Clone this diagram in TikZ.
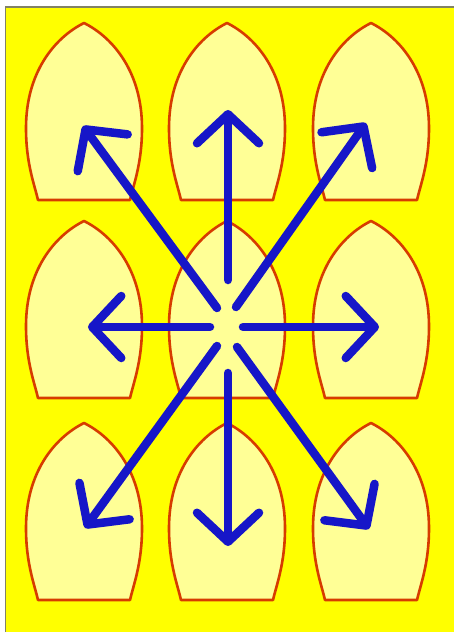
\documentclass[tikz,border=0pt]{standalone}
\usetikzlibrary{arrows.meta}
\definecolor{bgyellow}{RGB}{255,255,0}
\definecolor{archfill}{RGB}{255,255,150}
\definecolor{archline}{RGB}{215,60,0}
\definecolor{arrowblue}{RGB}{22,22,200}
\definecolor{framegray}{RGB}{130,130,100}
\tikzset{
  archstyle/.style={draw=archline, fill=archfill, line width=2.6pt, line join=round},
  arch/.pic={
    \path[archstyle] (0,0) .. controls (30,15) and (58,50) .. (58,105)
      .. controls (58,140) and (50,160) .. (46,177) -- (-46,177)
      .. controls (-50,160) and (-58,140) .. (-58,105)
      .. controls (-58,50) and (-30,15) .. (0,0) -- cycle;
  },
  ray/.style={draw=arrowblue, line width=8.5pt, line cap=round,
    -{Straight Barb[length=29pt, width=62pt, line cap=round, line join=round]}}
}
\begin{document}
\begin{tikzpicture}[x=1pt, y=-1pt]
\useasboundingbox (0,0) rectangle (454,632);
\fill[white] (0,0) rectangle (454,632);
\begin{scope}
\clip (0,0) rectangle (454,632);
\draw[fill=bgyellow, draw=framegray, line width=1.6pt] (5.5,7) rectangle (460,640);
\end{scope}
% arches
\foreach \cx in {84,227,371}{
  \foreach \ay in {23,221,423}{
    \pic at (\cx,\ay) {arch};
  }
}
% arrow coordinates
\coordinate (sUL) at (217,308); \coordinate (tUL) at (83,126);
\coordinate (sU)  at (228,280); \coordinate (tU)  at (228,110);
\coordinate (sUR) at (236,307); \coordinate (tUR) at (366,123);
\coordinate (sL)  at (210,327); \coordinate (tL)  at (88,327);
\coordinate (sR)  at (243,327); \coordinate (tR)  at (379,327);
\coordinate (sDL) at (217,346); \coordinate (tDL) at (85,528);
\coordinate (sD)  at (228,373); \coordinate (tD)  at (228,546);
\coordinate (sDR) at (237,347); \coordinate (tDR) at (369,529);
\foreach \d in {UL,U,UR,L,R,DL,D,DR}{
  \draw[ray] (s\d) -- (t\d);
}
\end{tikzpicture}
\end{document}
